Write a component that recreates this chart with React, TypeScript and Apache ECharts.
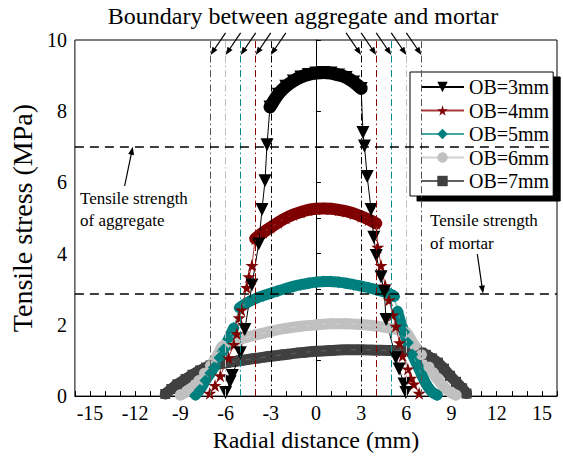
import React, { useEffect, useRef } from "react";
import * as echarts from "echarts";

const FONT = "'Liberation Serif', 'Times New Roman', serif";

const seriesNames = ["OB=3mm", "OB=4mm", "OB=5mm", "OB=6mm", "OB=7mm"];
const xTickStep = 3;
const yTickStep = 2;
const boundaries = [3, 4, 5, 6, 7];
const aggregateStrength = 7.0;
const mortarStrength = 2.88;

// OB=3mm
const ob3Left = [[-6.0, 0.1], [-5.7, 0.4], [-5.55, 0.58], [-5.02, 1.22], [-4.72, 1.87], [-4.25, 3.12], [-3.8, 4.27], [-3.58, 5.24], [-3.38, 6.05], [-3.25, 7.06]];
const ob3Arch = [[-3.05, 8.12], [-2.5, 8.48], [-2.0, 8.7], [-1.5, 8.85], [-1.0, 8.96], [-0.5, 9.03], [0, 9.07], [0.5, 9.09], [1.0, 9.07], [1.5, 9.02], [2.0, 8.95], [2.5, 8.82], [3.0, 8.64]];
const ob3Right = [[3.12, 7.4], [3.22, 7.02], [3.4, 6.17], [3.66, 5.24], [3.84, 4.46], [4.0, 3.95], [4.32, 3.35], [4.54, 2.93], [4.65, 2.15], [5.3, 1.08], [5.52, 0.76], [5.85, 0.34], [5.97, 0.1]];
// OB=4mm
const ob4Left = [[-7.05, 0.08], [-6.7, 0.3], [-6.35, 0.57], [-5.8, 1.08], [-5.45, 1.45], [-5.25, 1.75], [-5.1, 2.2], [-4.95, 2.42], [-4.6, 3.05], [-4.45, 3.35], [-4.25, 3.67]];
const ob4Arch = [[-4.03, 4.42], [-3.5, 4.6], [-3.0, 4.74], [-2.5, 4.88], [-2.0, 5.0], [-1.5, 5.1], [-1.0, 5.17], [-0.5, 5.23], [0, 5.26], [0.5, 5.27], [1.0, 5.26], [1.5, 5.23], [2.0, 5.19], [2.5, 5.13], [3.0, 5.05], [3.5, 4.96], [4.0, 4.85]];
const ob4Right = [[4.1, 4.18], [4.32, 3.67], [4.6, 3.1], [4.85, 2.7], [5.1, 2.28], [5.3, 1.96], [5.55, 1.5], [5.75, 1.13], [6.1, 0.76], [6.3, 0.5], [6.5, 0.34], [6.85, 0.08]];
// OB=5mm
const ob5Left = [[-8.0, 0.03], [-7.7, 0.18], [-7.33, 0.44], [-7.0, 0.65], [-6.78, 0.8], [-6.4, 1.08], [-6.12, 1.31], [-5.8, 1.6], [-5.46, 1.91]];
const ob5Arch = [[-5.08, 2.48], [-4.5, 2.64], [-4.0, 2.74], [-3.5, 2.82], [-3.0, 2.89], [-2.5, 2.96], [-2.0, 3.02], [-1.5, 3.08], [-1.0, 3.13], [-0.5, 3.17], [0, 3.2], [0.5, 3.22], [1.0, 3.22], [1.5, 3.2], [2.0, 3.17], [2.5, 3.13], [3.0, 3.09], [3.5, 3.04], [4.0, 2.99], [4.5, 2.93], [5.0, 2.85], [5.2, 2.8]];
const ob5Right = [[5.42, 2.38], [5.64, 2.05], [5.85, 1.8], [6.1, 1.5], [6.4, 1.17], [6.75, 0.85], [7.1, 0.52], [7.4, 0.28], [7.7, 0.12], [8.05, 0.03]];
// OB=6mm
const ob6Left = [[-9.0, 0.03], [-8.6, 0.12], [-8.2, 0.25], [-7.77, 0.44], [-7.4, 0.64], [-7.0, 0.85], [-6.6, 1.1], [-6.25, 1.38]];
const ob6Arch = [[-6.1, 1.43], [-5.5, 1.52], [-5.0, 1.6], [-4.0, 1.72], [-3.0, 1.82], [-2.0, 1.9], [-1.0, 1.96], [0, 2.0], [1.0, 2.03], [2.0, 2.03], [3.0, 2.01], [4.0, 1.97], [5.0, 1.9], [6.0, 1.78]];
const ob6Right = [[6.3, 1.58], [6.55, 1.42], [7.0, 1.16], [7.5, 0.82], [8.0, 0.52], [8.5, 0.26], [9.0, 0.09], [9.3, 0.03]];
// OB=7mm
const ob7Left = [[-10.0, 0.06], [-9.6, 0.2], [-9.2, 0.33], [-8.65, 0.48], [-8.2, 0.6], [-7.7, 0.72], [-7.3, 0.8]];
const ob7Arch = [[-7.0, 0.86], [-6.0, 0.93], [-5.0, 1.0], [-4.0, 1.06], [-3.0, 1.12], [-2.0, 1.17], [-1.0, 1.22], [0, 1.26], [1.0, 1.28], [2.0, 1.3], [3.0, 1.3], [4.0, 1.29], [5.0, 1.28], [6.0, 1.26], [7.0, 1.22]];
const ob7Right = [[7.3, 1.16], [7.7, 1.06], [8.1, 0.94], [8.5, 0.77], [8.9, 0.57], [9.3, 0.4], [9.7, 0.22], [10.0, 0.07]];

const STAR = "path://M50,0 L61,35 L98,35 L68,57 L79,91 L50,70 L21,91 L32,57 L2,35 L39,35 Z";

// band: which parts are drawn as a dense thick band ("arch" only, "split" = each part separately, "all" = continuous)
const styles = [
  { marker: "#000000", line: "#000000", symbol: "triangle", rotate: 180, size: 13, band: 13, mode: "arch" },
  { marker: "#7f0000", line: "#a83a3a", symbol: STAR, rotate: 0, size: 13, band: 12, mode: "arch" },
  { marker: "#007f7f", line: "#45a8a3", symbol: "diamond", rotate: 0, size: 12, band: 11, mode: "split" },
  { marker: "#c0c0c0", line: "#d2d2d2", symbol: "circle", rotate: 0, size: 11, band: 11, mode: "all" },
  { marker: "#404040", line: "#606060", symbol: "rect", rotate: 0, size: 10, band: 11, mode: "all" },
];

const parts = [
  [ob3Left, ob3Arch, ob3Right],
  [ob4Left, ob4Arch, ob4Right],
  [ob5Left, ob5Arch, ob5Right],
  [ob6Left, ob6Arch, ob6Right],
  [ob7Left, ob7Arch, ob7Right],
];

const boundaryColors = ["#000000", "#8b0000", "#008b8b", "#bdbdbd", "#555555"];

function buildOption() {
  const series: any[] = [];
  const vLines: any[] = [];
  boundaries.forEach((b, k) => {
    [-b, b].forEach((x) =>
      vLines.push({ xAxis: x, lineStyle: { color: boundaryColors[k], width: 1, type: [7, 3, 1.5, 3] } })
    );
  });
  series.push({
    type: "line",
    name: "refs",
    data: [],
    markLine: {
      silent: true,
      symbol: "none",
      label: { show: false },
      data: [
        ...vLines,
        { yAxis: aggregateStrength, lineStyle: { color: "#000", width: 1.5, type: [9, 6] } },
        { yAxis: mortarStrength, lineStyle: { color: "#000", width: 1.5, type: [9, 6] } },
      ],
    },
    z: 1,
  });
  for (let i = 4; i >= 0; i--) {
    const st = styles[i];
    const [l, a, r] = parts[i];
    const all = [...l, ...a, ...r];
    const bands = st.mode === "all" ? [all] : st.mode === "split" ? [l, a, r] : [a];
    bands.forEach((seg, j) => {
      series.push({
        type: "line",
        name: seriesNames[i] + " band" + j,
        data: seg,
        showSymbol: false,
        symbol: "none",
        smooth: 0.3,
        lineStyle: { color: st.marker, width: st.band, cap: "round", join: "round" },
        silent: true,
        z: 2,
      });
    });
    series.push({
      type: "line",
      name: seriesNames[i],
      data: all,
      symbol: st.symbol,
      symbolRotate: st.rotate,
      symbolSize: st.size,
      showAllSymbol: true,
      itemStyle: { color: st.marker },
      lineStyle: { color: st.line, width: 1 },
      z: 3,
    });
  }

  return {
    animation: false,
    backgroundColor: "#ffffff",
    textStyle: { fontFamily: FONT },
    grid: { left: 72, right: 6, top: 40, bottom: 56, show: true, borderColor: "#000", borderWidth: 1, backgroundColor: "transparent" },
    legend: {
      data: seriesNames,
      orient: "vertical",
      left: 410,
      top: 72,
      padding: [5, 4, 5, 10],
      itemWidth: 43,
      itemHeight: 13,
      itemGap: 3.5,
      textStyle: { fontSize: 20, fontFamily: FONT, color: "#000" },
      backgroundColor: "#fff",
      borderColor: "#000",
      borderWidth: 1,
      borderRadius: 0,
      shadowColor: "#000",
      shadowBlur: 0,
      shadowOffsetX: 7,
      shadowOffsetY: 5,
    },
    xAxis: {
      type: "value",
      min: -16,
      max: 16,
      interval: 1,
      name: "Radial distance (mm)",
      nameLocation: "middle",
      nameGap: 26,
      nameTextStyle: { fontSize: 24, fontFamily: FONT, color: "#000" },
      axisLine: { lineStyle: { color: "#000", width: 1 } },
      axisTick: { inside: true, length: 5, lineStyle: { color: "#000" } },
      axisLabel: {
        formatter: (v: number) => (Math.round(v) % xTickStep === 0 ? String(v) : ""),
        fontSize: 20,
        fontFamily: FONT,
        color: "#000",
        margin: 7,
      },
      splitLine: { show: false },
    },
    yAxis: {
      type: "value",
      min: 0,
      max: 10,
      interval: 1,
      name: "Tensile stress (MPa)",
      nameLocation: "middle",
      nameGap: 31,
      nameTextStyle: { fontSize: 28, fontFamily: FONT, color: "#000" },
      axisLine: { lineStyle: { color: "#000", width: 1 } },
      axisTick: { inside: true, length: 5, lineStyle: { color: "#000" } },
      axisLabel: {
        formatter: (v: number) => (Math.round(v) % yTickStep === 0 ? String(v) : ""),
        fontSize: 20,
        fontFamily: FONT,
        color: "#000",
        margin: 8,
      },
      splitLine: { show: false },
    },
    series,
  };
}

// annotation arrows in data coordinates: [tailX, tailY, tipX, tipY]
const boundaryArrowTipY = 9.58;
const boundaryArrowTailY = 10.2;
const aggregateArrow = [-12.7, 5.9, -12.16, aggregateStrength];
const mortarArrow = [10.71, 3.99, 11.09, mortarStrength];

export default function App() {
  const ref = useRef<HTMLDivElement>(null);
  useEffect(() => {
    const chart = echarts.init(ref.current!, null, { renderer: "svg" });
    chart.setOption(buildOption());
    const px = (x: number, y: number) => chart.convertToPixel({ gridIndex: 0 }, [x, y]) as number[];
    const arrows: number[][] = [];
    boundaries.forEach((b) => {
      arrows.push([-b + 1.0, boundaryArrowTailY, -b, boundaryArrowTipY]);
      arrows.push([b - 1.0, boundaryArrowTailY, b, boundaryArrowTipY]);
    });
    arrows.push(aggregateArrow, mortarArrow);
    const els: any[] = [];
    arrows.forEach(([tx, ty, hx, hy]) => {
      const [x1, y1] = px(tx, ty);
      const [x2, y2] = px(hx, hy);
      const dx = x2 - x1, dy = y2 - y1;
      const len = Math.hypot(dx, dy);
      const ux = dx / len, uy = dy / len;
      const L = 8, W = 3;
      els.push({
        type: "line",
        shape: { x1, y1, x2: x2 - ux * L * 0.6, y2: y2 - uy * L * 0.6 },
        style: { stroke: "#000", lineWidth: 1.2 },
        z: 10,
        silent: true,
      });
      els.push({
        type: "polygon",
        shape: {
          points: [
            [x2, y2],
            [x2 - ux * L - uy * W, y2 - uy * L + ux * W],
            [x2 - ux * L + uy * W, y2 - uy * L - ux * W],
          ],
        },
        style: { fill: "#000" },
        z: 10,
        silent: true,
      });
    });
    const txt = (t: string, x: number, y: number, size: number, align = "left") => ({
      type: "text",
      x,
      y,
      z: 10,
      silent: true,
      style: { text: t, fill: "#000", font: `${size}px ${FONT}`, align, verticalAlign: "middle" },
    });
    els.push(txt("Boundary between aggregate and mortar", 303, 16, 24, "center"));
    els.push(txt("Tensile strength", 80, 198, 17));
    els.push(txt("of aggregate", 80, 220, 17));
    els.push(txt("Tensile strength", 430, 220, 17));
    els.push(txt("of mortar", 430, 243, 17));
    chart.setOption({ graphic: els });
    return () => chart.dispose();
  }, []);
  return <div ref={ref} style={{ position: "fixed", left: 0, top: 0, width: 563, height: 457 }} />;
}
